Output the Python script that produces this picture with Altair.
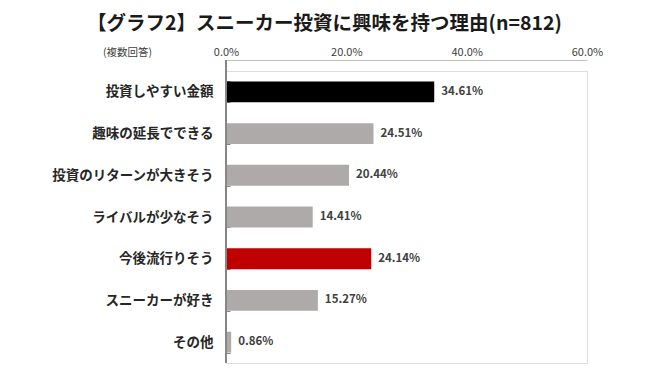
import altair as alt
import pandas as pd

categories = ["投資しやすい金額", "趣味の延長でできる", "投資のリターンが大きそう",
              "ライバルが少なそう", "今後流行りそう", "スニーカーが好き", "その他"]
values = [34.61, 24.51, 20.44, 14.41, 24.14, 15.27, 0.86]
bar_colors = ["#000000", "#AEAAAA", "#AEAAAA", "#AEAAAA", "#C00000", "#AEAAAA", "#AEAAAA"]
tick_values = [0, 20, 40, 60]
title_text = "【グラフ2】スニーカー投資に興味を持つ理由(n=812)"
note_text = "(複数回答)"

df = pd.DataFrame({"cat": categories, "val": values, "color": bar_colors})

FONT = "Noto Sans CJK JP"
W, H = 361, 292

base = alt.Chart(df)

y_enc = alt.Y("cat:N", sort=categories,
              scale=alt.Scale(paddingInner=0.5, paddingOuter=0.25),
              axis=alt.Axis(title=note_text, titleAngle=0, titleX=-103, titleY=-19,
                            titleAlign="center", titleBaseline="middle",
                            titleFont=FONT, titleFontSize=10.5, titleFontWeight="normal",
                            titleColor="#404040",
                            domain=False, ticks=True, tickBand="extent", tickSize=4,
                            tickColor="#868686", offset=-4, labelPadding=13,
                            labelFont=FONT, labelFontSize=13.5, labelFontWeight="bold",
                            labelColor="#262626"))

x_enc = alt.X("val:Q", scale=alt.Scale(domain=[0, 60]),
              axis=alt.Axis(orient="top", offset=11, values=tick_values, title=None,
                            labelExpr="format(datum.value, '.1f') + '%'",
                            labelFlush=False,
                            domainColor="#BFBFBF", ticks=False, grid=False,
                            labelPadding=3, labelFont=FONT, labelFontSize=11,
                            labelColor="#404040"))

bars = base.mark_bar().encode(
    x=x_enc, y=y_enc,
    color=alt.Color("color:N", scale=None, legend=None),
)

labels = base.transform_calculate(
    lab="format(datum.val, '.2f') + '%'"
).mark_text(align="left", baseline="middle", dx=7, font=FONT, fontSize=11.5,
            fontWeight="bold", color="#404040").encode(
    x="val:Q", y=alt.Y("cat:N", sort=categories), text="lab:N")

left_line = alt.Chart(df).mark_rule(color="#868686", strokeWidth=1).encode(
    x=alt.value(0), y=alt.value(-11), y2=alt.value(H))

chart = alt.layer(bars, labels, left_line).properties(
    width=W, height=H,
    padding={"left": 218, "top": 63, "right": 55, "bottom": 2},
    autosize=alt.AutoSizeParams(type="none"),
    title=alt.TitleParams(title_text, anchor="middle", dx=-82, offset=12,
                          font=FONT, fontSize=19.5, fontWeight="bold", color="#1a1a1a"),
).configure_view(stroke=None).configure(background="white")

chart.save("out.html", embed_options={"renderer": "svg", "actions": False})
